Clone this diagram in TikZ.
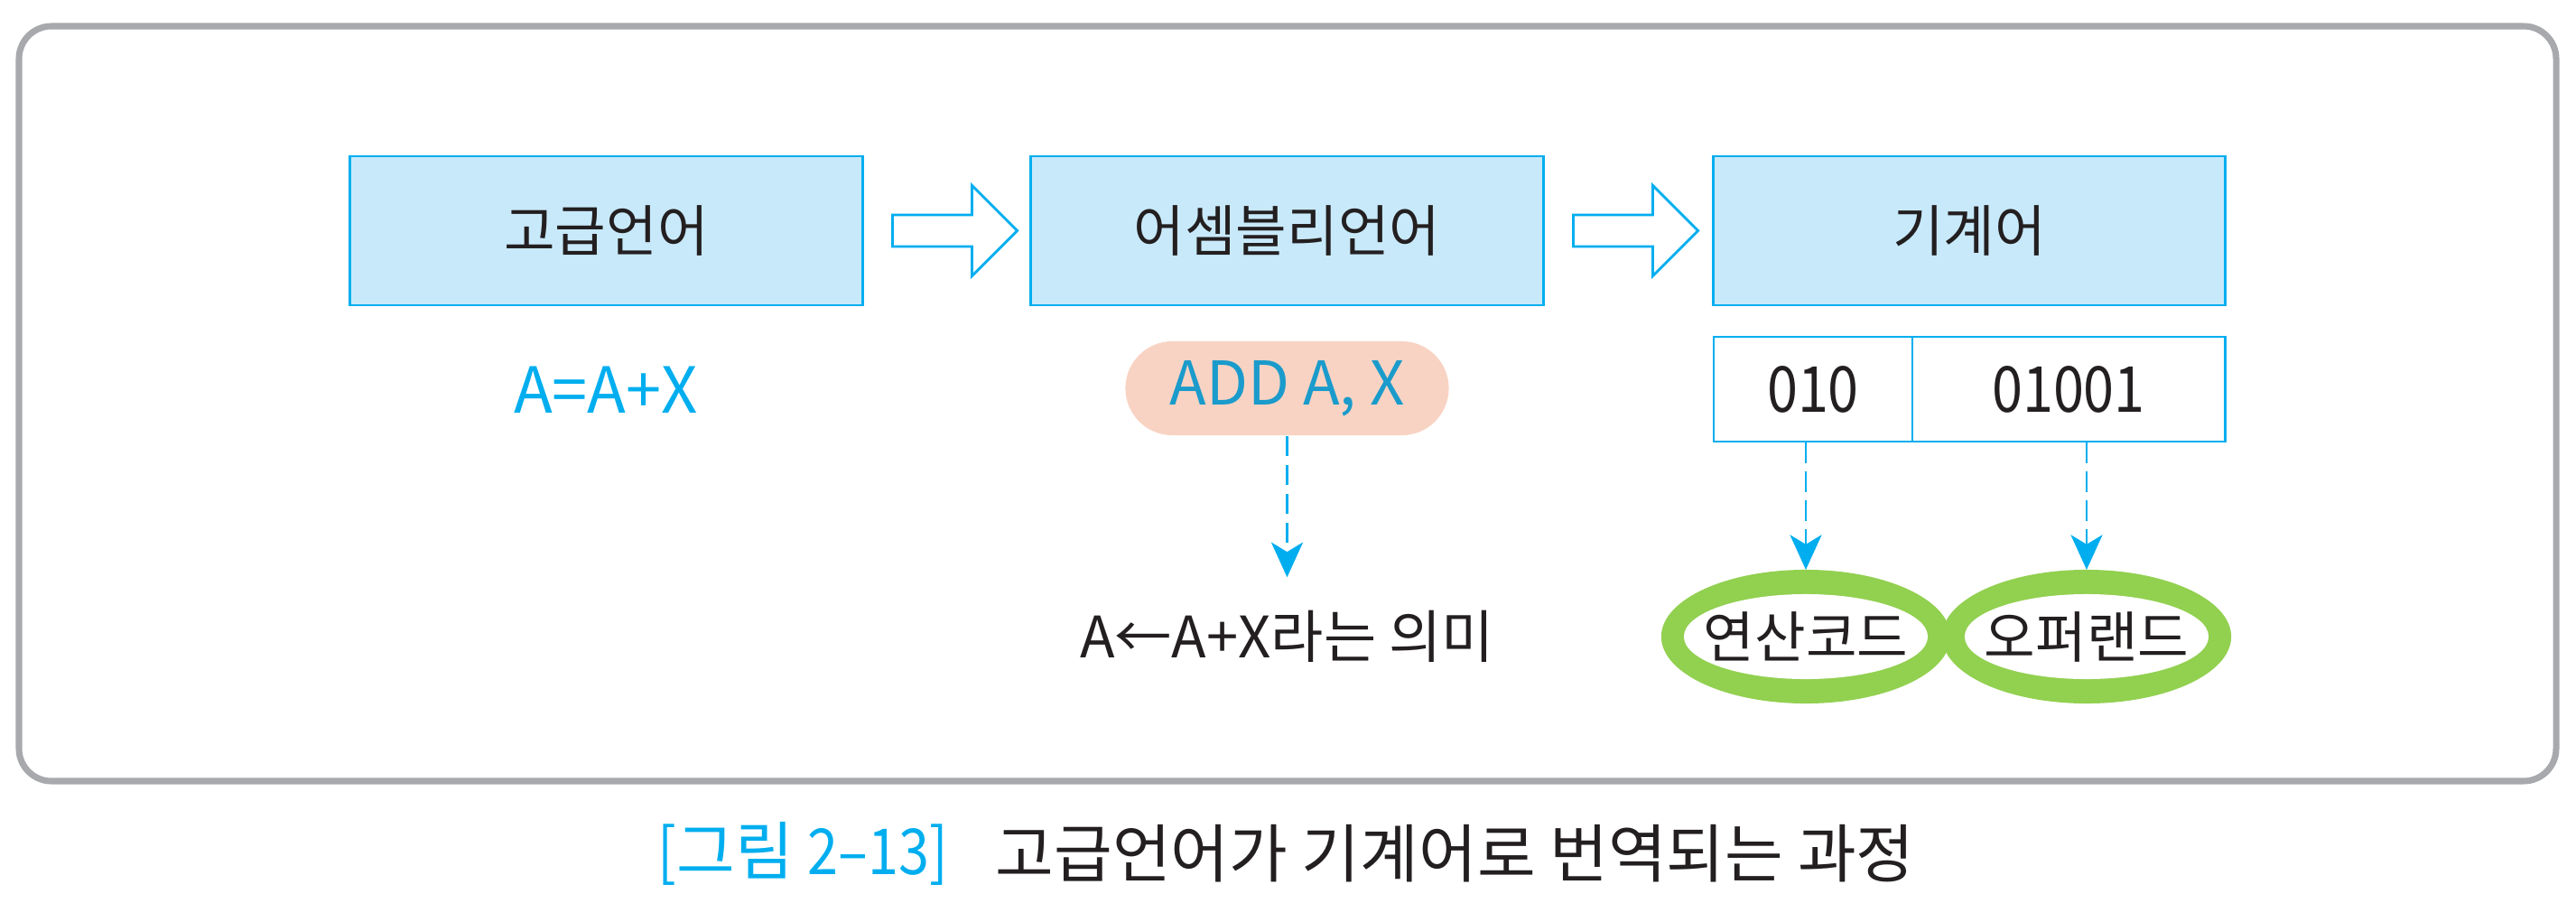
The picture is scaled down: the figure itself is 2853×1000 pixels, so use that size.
\documentclass[tikz,border=0pt]{standalone}
\usepackage{fontspec}
\setmainfont{Noto Sans CJK KR}
\newfontfamily\lat[FakeStretch=0.87]{Noto Sans CJK KR}
\usetikzlibrary{arrows.meta,shapes.geometric,calc}
\definecolor{cy}{HTML}{00AEEF}
\definecolor{boxfill}{HTML}{C8E9FA}
\definecolor{pillfill}{HTML}{F8D3C3}
\definecolor{pilltext}{HTML}{1A9BCB}
\definecolor{grn}{HTML}{92D050}
\definecolor{framegray}{HTML}{A7A9AC}
\definecolor{ink}{HTML}{231F20}
\begin{document}
\begin{tikzpicture}[x=0.01cm,y=-0.01cm,
  bigbox/.style={draw=cy,line width=0.8pt,fill=boxfill,minimum width=5.67cm,minimum height=1.65cm,inner sep=0pt,font=\fontsize{17.5}{20}\selectfont,text=ink},
  cell/.style={draw=cy,line width=0.8pt,minimum height=1.16cm,inner sep=0pt,font=\lat\fontsize{20}{22}\selectfont,text=ink},
  harrow/.style={draw=cy,line width=0.8pt,fill=white,line join=miter},
  dasharrow/.style={draw=cy,line width=0.6pt,dash pattern=on 6.3pt off 2.8pt,-{Stealth[length=11pt,width=10pt,inset=3pt]}},
  ring/.style={ellipse,fill=grn,minimum width=3.12cm,minimum height=1.48cm,inner sep=0pt,outer sep=0pt,
    path picture={\fill[white] (path picture bounding box.center) ellipse [x radius=1.35cm,y radius=0.47cm];},
    font=\fontsize{17.5}{20}\selectfont,text=ink},
  pill/.style={fill=pillfill,rounded corners=0.52cm,minimum width=3.58cm,minimum height=1.04cm,inner sep=0pt,font=\fontsize{19}{22}\selectfont,text=pilltext},
  plain/.style={inner sep=0pt,font=\fontsize{18}{20}\selectfont,text=ink}
]
\useasboundingbox (0,0) rectangle (2853,1000);
\draw[framegray,line width=2pt,rounded corners=0.36cm] (21,29) rectangle (2831,865);

\node[bigbox] (b1) at (671.5,255.5) {고급언어};
\node[bigbox] (b2) at (1425.5,255.5) {어셈블리언어};
\node[bigbox] (b3) at (2181,255.5) {기계어};

\draw[harrow,shift={(b1.east)}] (32,-17.5) -- (120,-17.5) -- (120,-50) -- (170,0) -- (120,50) -- (120,17.5) -- (32,17.5) -- cycle;
\draw[harrow,shift={(b2.east)}] (32,-17.5) -- (120,-17.5) -- (120,-50) -- (170,0) -- (120,50) -- (120,17.5) -- (32,17.5) -- cycle;

\node[plain,text=cy,font=\fontsize{20}{22}\selectfont] (hl) at (671,432) {A=A+X};

\node[pill] (asm) at (1425.5,430) {ADD A, X};
\node[plain,minimum height=1.3cm] (mean) at (1425.5,705) {A←A+X라는 의미};
\draw[dasharrow] (asm.south) -- (mean.north);

\node[cell,minimum width=2.2cm] (c1) at (2008,431) {010};
\node[cell,minimum width=3.46cm] (c2) at (2291,431) {01001};

\node[ring] (e1) at (2000,705) {연산코드};
\node[ring] (e2) at (2311,705) {오퍼랜드};

\draw[dasharrow] (e1.north |- c1.south) -- (e1.north);
\draw[dasharrow] (e2.north |- c2.south) -- (e2.north);

\node[plain,anchor=west,text=cy,font=\fontsize{20}{22}\selectfont] (cap1) at (728,945) {{\lat[}그림 {\lat 2–13]}};
\node[plain,anchor=west,font=\fontsize{20}{22}\selectfont] (cap2) at (1102,945) {고급언어가 기계어로 번역되는 과정};
\end{tikzpicture}
\end{document}
